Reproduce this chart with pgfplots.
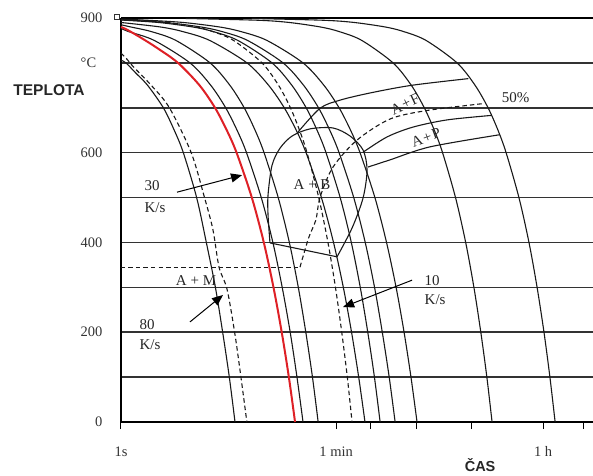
\documentclass[border=0pt]{standalone}
\usepackage{fontspec}
\setmainfont{Liberation Serif}
\newfontfamily\sansfont{Liberation Sans}
\usepackage{pgfplots}
\pgfplotsset{compat=1.18}
\usetikzlibrary{arrows.meta}
\definecolor{cred}{RGB}{222,32,38}
\begin{document}
\begin{tikzpicture}
\path[use as bounding box] (-121pt,-53pt) rectangle (472pt,422pt);
\begin{axis}[
 at={(0,0)}, anchor=south west,
 scale only axis, width=472pt, height=404pt,
 xmin=0, xmax=3.9, ymin=0, ymax=900,
 axis x line=bottom, axis y line=left,
 axis line style={-, line width=2pt, black},
 ymajorgrids, grid style={line width=1.5pt, black!80},
 ytick={0,100,...,900},
 yticklabels={0,,200,,400,,600,,{\rlap{°C}\phantom{900}},900},
 xtick={0,1.778,2.06,2.44,2.90,3.488,3.82},
 xticklabels={1s,1 min,,,,1 h,},
 tick align=outside,
 major tick length=7pt,
 xtick style={line width=1pt, black},
 ytick style={draw=none},
 /pgf/number format/assume math mode=true,
 ticklabel style={font=\fontsize{14.5}{16}\selectfont, text=black!80},
 xticklabel style={yshift=-14pt},
 yticklabel style={xshift=-8pt},
 clip=false,
 every axis plot/.append style={line width=1.1pt, black!90},
 dsh/.style={dash pattern=on 4.5pt off 3pt},
]
% top line
\addplot[line width=2pt, black] coordinates {(0,900)(3.9,900)};
\addplot[only marks, mark=square, mark size=2.5pt, mark options={line width=0.8pt, black!80}] coordinates {(-0.03,902)};
% cooling curves
\addplot[smooth] coordinates {(0,806)(0.041,800)(0.12,778)(0.22,750)(0.35,700)(0.44,650)(0.515,600)(0.625,500)(0.705,400)(0.78,300)(0.84,200)(0.895,100)(0.942,0)};
\addplot[smooth,dsh] coordinates {(0,822)(0.05,808)(0.10,792)(0.25,750)(0.40,700)(0.58,600)(0.69,500)(0.76,428)(0.81,345)(0.876,296)(0.94,198)(0.99,102)(1.04,0)};
\addplot[smooth] coordinates {(0,877)(0.06,870)(0.275,850)(0.570,800)(0.742,750)(0.865,700)(0.959,650)(1.037,600)(1.159,500)(1.255,400)(1.332,300)(1.398,200)(1.454,100)(1.504,0)};
\addplot[smooth] coordinates {(0,885)(0.081,880)(0.247,870)(0.454,850)(0.736,800)(0.900,750)(1.018,700)(1.108,650)(1.182,600)(1.299,500)(1.391,400)(1.465,300)(1.527,200)(1.582,100)(1.629,0)};
\addplot[smooth] coordinates {(0,890)(0.326,880)(0.507,870)(0.733,850)(1.041,800)(1.220,750)(1.349,700)(1.448,650)(1.529,600)(1.656,500)(1.756,400)(1.837,300)(1.905,200)(1.964,100)(2.016,0)};
\addplot[smooth,dsh] coordinates {(0,896)(0.150,895)(0.385,890)(0.620,880)(0.757,870)(0.930,850)(1.165,800)(1.302,750)(1.400,700)(1.475,650)(1.537,600)(1.634,500)(1.710,400)(1.772,300)(1.824,200)(1.870,100)(1.909,0)};
\addplot[smooth] coordinates {(0,895.5)(0.312,890)(0.593,880)(0.759,870)(0.966,850)(1.248,800)(1.412,750)(1.530,700)(1.620,650)(1.694,600)(1.811,500)(1.903,400)(1.977,300)(2.039,200)(2.094,100)(2.141,0)};
\addplot[smooth] coordinates {(0,896)(0.369,890)(0.660,880)(0.832,870)(1.046,850)(1.339,800)(1.509,750)(1.632,700)(1.725,650)(1.802,600)(1.923,500)(2.018,400)(2.095,300)(2.159,200)(2.216,100)(2.265,0)};
\addplot[smooth] coordinates {(0,897.5)(0.219,895)(0.517,890)(0.814,880)(0.988,870)(1.206,850)(1.504,800)(1.677,750)(1.802,700)(1.897,650)(1.975,600)(2.098,500)(2.194,400)(2.273,300)(2.339,200)(2.396,100)(2.446,0)};
\addplot[smooth] coordinates {(0.534,899)(1.132,895)(1.391,890)(1.648,880)(1.80,870)(1.990,850)(2.248,800)(2.399,750)(2.506,700)(2.589,650)(2.657,600)(2.764,500)(2.848,400)(2.916,300)(2.973,200)(3.023,100)(3.066,0)};
\addplot[smooth] coordinates {(1.079,899)(1.672,895)(1.928,890)(2.183,880)(2.333,870)(2.521,850)(2.777,800)(2.926,750)(3.033,700)(3.115,650)(3.182,600)(3.288,500)(3.371,400)(3.438,300)(3.495,200)(3.544,100)(3.587,0)};
% red critical curve
\addplot[smooth, cred, line width=2pt] coordinates {(0,880)(0.05,874)(0.165,856)(0.30,833)(0.471,800)(0.649,750)(0.777,700)(0.874,650)(0.955,600)(1.081,500)(1.180,400)(1.260,300)(1.328,200)(1.387,100)(1.438,0)};
% bainite nose
\addplot[smooth] coordinates {(1.231,399)(1.215,461)(1.215,506)(1.248,572)(1.314,610)(1.413,637)(1.562,653)(1.752,655)(1.893,637)(2.0,606)(2.033,561)(2.0,499)(1.909,432)(1.785,368)};
\addplot[] coordinates {(1.785,368)(1.231,399)};
% ferrite start
\addplot[smooth] coordinates {(1.463,646)(1.645,699)(1.81,717)(2.058,733)(2.40,750)(2.87,765)};
% pearlite lines
\addplot[smooth] coordinates {(2.0,601)(2.198,635)(2.413,657)(2.694,673)(3.06,683)};
\addplot[smooth] coordinates {(2.041,568)(2.223,584)(2.554,613)(3.13,640)};
% 50 % line
\addplot[smooth,dsh] coordinates {(1.479,345)(1.55,410)(1.61,450)(1.645,501)(1.752,568)(1.95,628)(2.223,675)(2.529,694)(2.983,709)};
% Ms
\addplot[dsh] coordinates {(0,345)(1.479,345)};

% labels
\node[font=\sansfont\bfseries\fontsize{15.5}{17}\selectfont, text=black!85] at (axis cs:-0.595,740) {TEPLOTA};
\node[font=\sansfont\bfseries\fontsize{14.5}{16}\selectfont, text=black!85, inner sep=0pt] at (axis cs:2.967,-96) {ČAS};
\begin{scope}[every node/.style={font=\fontsize{15}{17}\selectfont, text=black!85}]
\node[anchor=west] at (axis cs:0.165,526) {30};
\node[anchor=west] at (axis cs:0.165,477) {K/s};
\node[anchor=west] at (axis cs:0.125,218) {80};
\node[anchor=west] at (axis cs:0.125,172) {K/s};
\node[anchor=west] at (axis cs:2.48,314) {10};
\node[anchor=west] at (axis cs:2.48,272) {K/s};
\node at (axis cs:0.62,316) {A + M};
\node at (axis cs:1.579,528) {A + B};
\node[rotate=25, inner sep=0pt] at (axis cs:2.347,708) {A\kern1.2pt+\kern1.2ptF};
\node[rotate=20, inner sep=0pt] at (axis cs:2.52,634) {A\kern1.2pt+\kern1.2ptP};
\node[inner sep=0pt] at (axis cs:3.26,722) {50\%};
\end{scope}
\draw[line width=1pt, -{Triangle[length=11pt,width=9pt]}] (axis cs:0.463,512) -- (axis cs:1.0,550);
\draw[line width=1pt, -{Triangle[length=11pt,width=9pt]}] (axis cs:0.570,223) -- (axis cs:0.843,283);
\draw[line width=1pt, -{Triangle[length=11pt,width=9pt]}] (axis cs:2.405,316) -- (axis cs:1.835,256);
\end{axis}
\end{tikzpicture}
\end{document}
